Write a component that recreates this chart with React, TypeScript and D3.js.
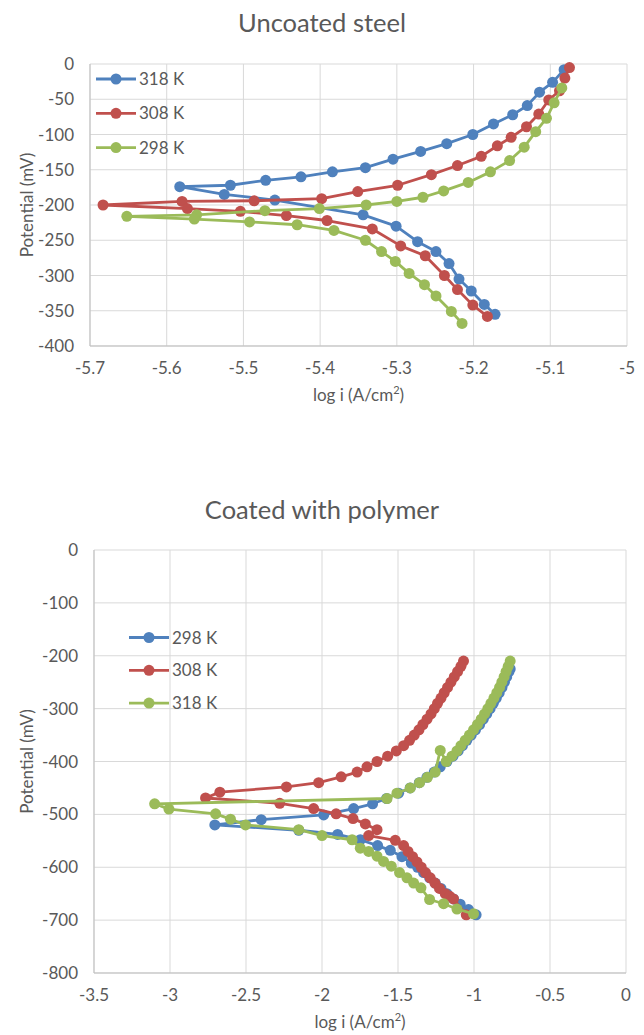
import React from "react";
import * as d3 from "d3";

type Pt = [number, number];

// Uncoated steel: [log i, potential mV]
const uncoated318: Pt[] = [
  [-5.082, -8], [-5.097, -26], [-5.114, -40], [-5.13, -59], [-5.149, -72],
  [-5.174, -85], [-5.201, -100], [-5.235, -113], [-5.269, -124], [-5.305, -135],
  [-5.341, -147], [-5.384, -153], [-5.425, -160], [-5.471, -165], [-5.517, -172],
  [-5.583, -174], [-5.525, -185], [-5.459, -193], [-5.344, -214], [-5.301, -230],
  [-5.273, -252], [-5.249, -266], [-5.232, -283], [-5.219, -305], [-5.203, -322],
  [-5.186, -341], [-5.172, -355],
];
const uncoated308: Pt[] = [
  [-5.075, -5], [-5.081, -20], [-5.088, -38], [-5.102, -51], [-5.115, -71],
  [-5.131, -89], [-5.151, -104], [-5.169, -116], [-5.19, -131], [-5.221, -144],
  [-5.255, -157], [-5.299, -172], [-5.351, -181], [-5.398, -191], [-5.486, -194],
  [-5.58, -195], [-5.683, -200], [-5.573, -205], [-5.504, -209], [-5.444, -215],
  [-5.391, -222], [-5.332, -234], [-5.295, -258], [-5.263, -272], [-5.238, -300],
  [-5.221, -320], [-5.201, -342], [-5.182, -358],
];
const uncoated298: Pt[] = [
  [-5.085, -34], [-5.095, -55], [-5.105, -77], [-5.119, -96], [-5.134, -118],
  [-5.153, -137], [-5.178, -153], [-5.207, -168], [-5.239, -180], [-5.266, -189],
  [-5.3, -195], [-5.34, -200], [-5.401, -205], [-5.472, -208], [-5.561, -214],
  [-5.652, -216], [-5.564, -220], [-5.492, -224], [-5.43, -228], [-5.382, -236],
  [-5.341, -250], [-5.32, -266], [-5.302, -280], [-5.284, -297], [-5.264, -313],
  [-5.249, -329], [-5.229, -351], [-5.215, -368],
];

// Coated with polymer
const coated298: Pt[] = [
  [-0.762, -225], [-0.77, -230], [-0.785, -240], [-0.8, -250], [-0.816, -260],
  [-0.834, -270], [-0.853, -280], [-0.873, -290], [-0.894, -300], [-0.916, -310],
  [-0.939, -320], [-0.963, -330], [-0.99, -340], [-1.018, -350], [-1.047, -360],
  [-1.076, -370], [-1.104, -380], [-1.138, -390], [-1.178, -400], [-1.222, -410],
  [-1.262, -420], [-1.31, -430], [-1.36, -440], [-1.42, -450], [-1.496, -460],
  [-1.575, -470], [-1.667, -480], [-1.792, -489], [-1.989, -501], [-2.4, -510],
  [-2.705, -520], [-2.153, -530], [-1.897, -538], [-1.748, -548], [-1.634, -559],
  [-1.551, -568], [-1.474, -580], [-1.413, -592], [-1.371, -600], [-1.332, -610],
  [-1.292, -620], [-1.255, -630], [-1.217, -640], [-1.178, -650], [-1.135, -660],
  [-1.091, -670], [-1.036, -680], [-0.986, -690],
];
const coated308: Pt[] = [
  [-1.069, -210], [-1.086, -220], [-1.108, -230], [-1.13, -240], [-1.152, -250],
  [-1.174, -260], [-1.196, -270], [-1.217, -280], [-1.24, -290], [-1.261, -300],
  [-1.283, -310], [-1.309, -320], [-1.336, -330], [-1.362, -340], [-1.393, -350],
  [-1.424, -360], [-1.463, -370], [-1.511, -380], [-1.568, -390], [-1.638, -400],
  [-1.704, -410], [-1.769, -420], [-1.874, -429], [-2.022, -440], [-2.234, -448],
  [-2.672, -458], [-2.766, -469], [-2.278, -479], [-2.055, -489], [-1.907, -499],
  [-1.796, -508], [-1.715, -518], [-1.638, -529], [-1.693, -540], [-1.518, -549],
  [-1.463, -559], [-1.434, -570], [-1.404, -580], [-1.375, -590], [-1.347, -600],
  [-1.319, -610], [-1.288, -620], [-1.257, -630], [-1.227, -640], [-1.189, -650],
  [-1.16, -655], [-1.135, -660], [-1.051, -690],
];
const coated318: Pt[] = [
  [-0.762, -210], [-0.775, -220], [-0.789, -230], [-0.802, -240], [-0.817, -250],
  [-0.832, -260], [-0.85, -270], [-0.869, -280], [-0.889, -290], [-0.909, -300],
  [-0.931, -310], [-0.953, -320], [-0.977, -330], [-1.003, -340], [-1.03, -350],
  [-1.058, -360], [-1.086, -370], [-1.112, -380], [-1.145, -390], [-1.183, -400],
  [-1.222, -379], [-1.255, -420], [-1.306, -430], [-1.358, -440], [-1.419, -450],
  [-1.507, -460], [-1.572, -470], [-3.101, -480], [-3.007, -490], [-2.7, -499],
  [-2.602, -509], [-2.503, -520], [-2.153, -529], [-2.0, -540], [-1.802, -548],
  [-1.748, -564], [-1.693, -570], [-1.638, -579], [-1.595, -589], [-1.544, -598],
  [-1.49, -610], [-1.441, -620], [-1.397, -630], [-1.349, -639], [-1.292, -661],
  [-1.2, -669], [-1.112, -679], [-1.003, -688],
];

const topXTicks = [-5.7, -5.6, -5.5, -5.4, -5.3, -5.2, -5.1, -5];
const topYTicks = [0, -50, -100, -150, -200, -250, -300, -350, -400];
const botXTicks = [-3.5, -3, -2.5, -2, -1.5, -1, -0.5, 0];
const botYTicks = [0, -100, -200, -300, -400, -500, -600, -700, -800];

const BLUE = "#4f81bd";
const RED = "#c0504d";
const GREEN = "#9bbb59";
const FONT = "Lato, 'Open Sans', sans-serif";
const TXT = "#595959";

type Series = { name: string; color: string; data: Pt[] };

function Chart(props: {
  title: string;
  titleY: number;
  xDomain: [number, number];
  yDomain: [number, number];
  left: number;
  right: number;
  top: number;
  bottom: number;
  xTicks: number[];
  yTicks: number[];
  series: Series[];
  legendX: number;
  legendY: number;
  legendGap: number;
}) {
  const { left, right, top, bottom } = props;
  const x = d3.scaleLinear().domain(props.xDomain).range([left, right]);
  const y = d3.scaleLinear().domain(props.yDomain).range([bottom, top]);
  const line = d3
    .line<Pt>()
    .x((d) => x(d[0]))
    .y((d) => y(d[1]));
  const midX = (left + right) / 2;
  const midY = (top + bottom) / 2;

  return (
    <g fontFamily={FONT}>
      {/* chart title is centred on the whole chart area, not the plot */}
      <text x={322} y={props.titleY} textAnchor="middle" fontSize={25.5} fill={TXT}>
        {props.title}
      </text>
      {/* grid */}
      {props.xTicks.map((t) => (
        <line key={"gx" + t} x1={x(t)} x2={x(t)} y1={top} y2={bottom} stroke="#d9d9d9" />
      ))}
      {props.yTicks.map((t) => (
        <line key={"gy" + t} x1={left} x2={right} y1={y(t)} y2={y(t)} stroke="#d9d9d9" />
      ))}
      <line x1={left} x2={left} y1={top} y2={bottom} stroke="#bfbfbf" />
      <line x1={left} x2={right} y1={bottom} y2={bottom} stroke="#bfbfbf" />
      {/* tick labels */}
      {props.xTicks.map((t) => (
        <text key={"tx" + t} x={x(t)} y={bottom + 28} textAnchor="middle" fontSize={17} fill={TXT}>
          {String(t)}
        </text>
      ))}
      {props.yTicks.map((t) => (
        <text key={"ty" + t} x={left - 16} y={y(t) + 6} textAnchor="end" fontSize={17} fill={TXT}>
          {String(t)}
        </text>
      ))}
      <text x={midX} y={bottom + 55} textAnchor="middle" fontSize={17} fill={TXT}>
        log i (A/cm<tspan dy={-7} fontSize={11}>2</tspan>
        <tspan dy={7}>)</tspan>
      </text>
      <text
        transform={`translate(33,${midY}) rotate(-90)`}
        textAnchor="middle"
        fontSize={17}
        fill={TXT}
      >
        Potential (mV)
      </text>
      {/* series */}
      {props.series.map((s) => (
        <g key={s.name}>
          <path d={line(s.data) || ""} fill="none" stroke={s.color} strokeWidth={2.8} strokeLinejoin="round" />
          {s.data.map((d, i) => (
            <circle key={i} cx={x(d[0])} cy={y(d[1])} r={5.5} fill={s.color} />
          ))}
        </g>
      ))}
      {/* legend */}
      {props.series.map((s, i) => {
        const ly = props.legendY + i * props.legendGap;
        return (
          <g key={"lg" + s.name}>
            <line x1={props.legendX} x2={props.legendX + 40} y1={ly} y2={ly} stroke={s.color} strokeWidth={2.8} />
            <circle cx={props.legendX + 20} cy={ly} r={5.5} fill={s.color} />
            <text x={props.legendX + 43} y={ly + 6} fontSize={17} fill={TXT}>
              {s.name}
            </text>
          </g>
        );
      })}
    </g>
  );
}

export default function App() {
  return (
    <svg
      width={644}
      height={1035}
      style={{ position: "absolute", left: 0, top: 0, background: "#fff" }}
    >
      <Chart
        title="Uncoated steel"
        titleY={32}
        xDomain={[-5.7, -5]}
        yDomain={[-400, 0]}
        left={90}
        right={627}
        top={64}
        bottom={346}
        xTicks={topXTicks}
        yTicks={topYTicks}
        series={[
          { name: "318 K", color: BLUE, data: uncoated318 },
          { name: "308 K", color: RED, data: uncoated308 },
          { name: "298 K", color: GREEN, data: uncoated298 },
        ]}
        legendX={96}
        legendY={79}
        legendGap={34.3}
      />
      <Chart
        title="Coated with polymer"
        titleY={519}
        xDomain={[-3.5, 0]}
        yDomain={[-800, 0]}
        left={94}
        right={626}
        top={550}
        bottom={973}
        xTicks={botXTicks}
        yTicks={botYTicks}
        series={[
          { name: "298 K", color: BLUE, data: coated298 },
          { name: "308 K", color: RED, data: coated308 },
          { name: "318 K", color: GREEN, data: coated318 },
        ]}
        legendX={129}
        legendY={637.5}
        legendGap={32.8}
      />
    </svg>
  );
}
